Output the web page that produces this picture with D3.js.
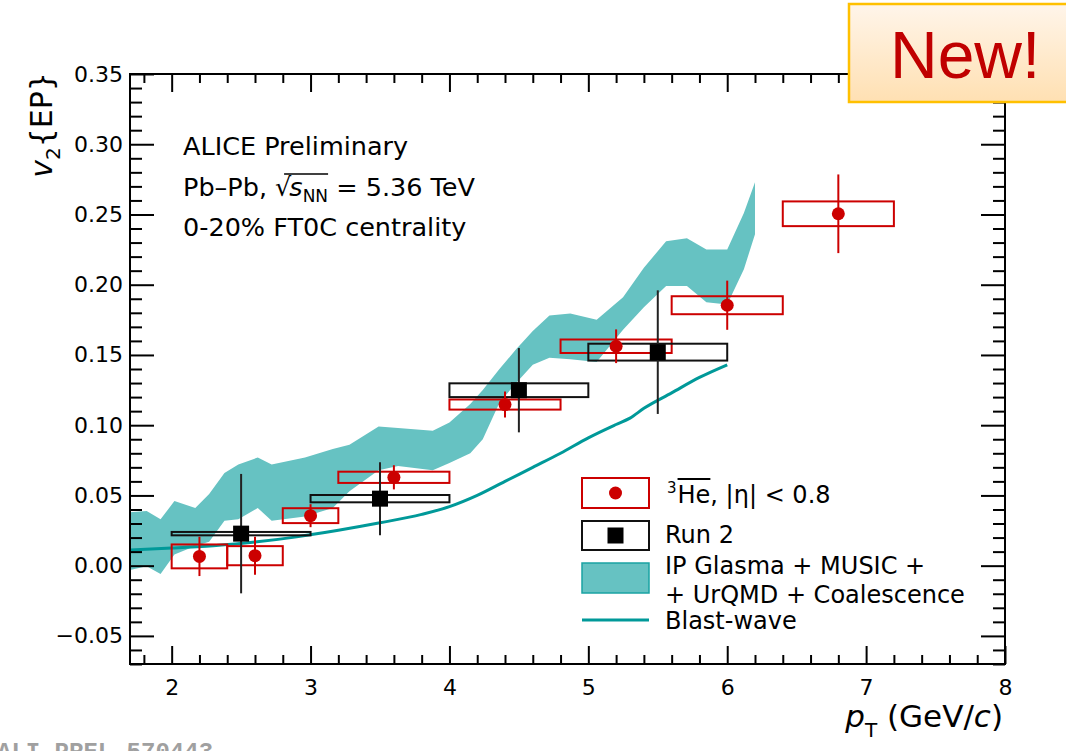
<!DOCTYPE html>
<html><head><meta charset="utf-8">
<script src="https://cdn.jsdelivr.net/npm/d3@7"></script>
<style>
body{margin:0;background:#fff}
svg{display:block}
text{white-space:pre}
</style>
</head><body>
<svg id="c" width="1066" height="751"></svg>
<script>
// ---------------- data ----------------
const xTicks = [2,3,4,5,6,7,8];
const yTicks = [-0.05,0,0.05,0.10,0.15,0.20,0.25,0.30,0.35];
const xDomain = [1.7, 8];
const yDomain = [-0.07, 0.35];

// anti-3He (red)
const he3X     = [2.2, 2.6, 3.0, 3.6, 4.4, 5.2, 6.0, 6.8];
const he3Y     = [0.0066, 0.0071, 0.0356, 0.0629, 0.1147, 0.1562, 0.1854, 0.2505];
const he3Stat  = [0.014, 0.0135, 0.0082, 0.0086, 0.0093, 0.012, 0.0175, 0.028];
const he3Sys   = [0.0085, 0.0068, 0.0053, 0.0040, 0.0036, 0.0048, 0.0064, 0.0088];
const he3BinLo = [2.0, 2.4, 2.8, 3.2, 4.0, 4.8, 5.6, 6.4];
const he3BinHi = [2.4, 2.8, 3.2, 4.0, 4.8, 5.6, 6.4, 7.2];

// Run 2 (black)
const run2X     = [2.5, 3.5, 4.5, 5.5];
const run2Y     = [0.0228, 0.0477, 0.1249, 0.1520];
const run2Stat  = [0.0425, 0.026, 0.030, 0.044];
const run2Sys   = [0.0012, 0.0026, 0.0049, 0.0060];
const run2BinLo = [2.0, 3.0, 4.0, 5.0];
const run2BinHi = [3.0, 4.0, 5.0, 6.0];

// IP Glasma + MUSIC + UrQMD + Coalescence band
const bandX    = [1.70, 1.82, 1.92, 2.02, 2.17, 2.27, 2.38, 2.48, 2.62, 2.72, 2.96, 3.16, 3.28, 3.49, 3.63, 3.88, 4.00, 4.15, 4.24, 4.36, 4.48, 4.60, 4.72, 4.87, 5.06, 5.25, 5.40, 5.56, 5.71, 5.85, 6.00, 6.12, 6.20];
const bandHigh = [0.038, 0.039, 0.033, 0.046, 0.041, 0.051, 0.066, 0.072, 0.077, 0.072, 0.077, 0.083, 0.086, 0.099, 0.098, 0.096, 0.102, 0.115, 0.125, 0.140, 0.154, 0.167, 0.178, 0.1795, 0.175, 0.191, 0.212, 0.231, 0.233, 0.225, 0.225, 0.251, 0.273];
const bandLow  = [-0.003, -0.0005, -0.006, 0.008, 0.014, 0.017, 0.032, 0.033, 0.041, 0.032, 0.035, 0.041, 0.053, 0.068, 0.071, 0.068, 0.073, 0.080, 0.090, 0.116, 0.130, 0.143, 0.148, 0.147, 0.145, 0.168, 0.184, 0.199, 0.199, 0.1875, 0.186, 0.211, 0.236];

// Blast-wave
const blastX = [1.7, 2.0, 2.3, 2.6, 2.9, 3.2, 3.5, 3.8, 4.0, 4.2, 4.4, 4.6, 4.8, 5.0, 5.2, 5.3, 5.4, 5.6, 5.8, 6.0];
const blastY = [0.0112, 0.0125, 0.0142, 0.0168, 0.0205, 0.0252, 0.0305, 0.0365, 0.042, 0.050, 0.060, 0.070, 0.080, 0.091, 0.1005, 0.105, 0.112, 0.123, 0.134, 0.143];

const legendLabels = ["Run 2", "IP Glasma + MUSIC +", "+ UrQMD + Coalescence", "Blast-wave"];
const infoLines = ["ALICE Preliminary", "0-20% FT0C centrality"];

// ---------------- drawing ----------------
const FONT = "'DejaVu Sans', sans-serif";
const RED = "#cc0000", TEAL = "#66c2c2", TEAL_LINE = "#009999";
const svg = d3.select("#c");
const L = 130, R = 1005, T = 74, B = 664;
const x = d3.scaleLinear().domain(xDomain).range([L, R]);
const y = d3.scaleLinear().domain(yDomain).range([B, T]);

// band
const band = bandX.map((v,i)=>({x:v, lo:bandLow[i], hi:bandHigh[i]}));
svg.append("path").datum(band)
  .attr("d", d3.area().x(d=>x(d.x)).y0(d=>y(d.lo)).y1(d=>y(d.hi)))
  .attr("fill", TEAL);

// blast wave
svg.append("path").datum(blastX.map((v,i)=>[v, blastY[i]]))
  .attr("d", d3.line().x(d=>x(d[0])).y(d=>y(d[1])).curve(d3.curveMonotoneX))
  .attr("fill","none").attr("stroke",TEAL_LINE).attr("stroke-width",3);

// systematic boxes
const he3 = he3X.map((v,i)=>({x:v,y:he3Y[i],s:he3Stat[i],sy:he3Sys[i],lo:he3BinLo[i],hi:he3BinHi[i]}));
const run2 = run2X.map((v,i)=>({x:v,y:run2Y[i],s:run2Stat[i],sy:run2Sys[i],lo:run2BinLo[i],hi:run2BinHi[i]}));

svg.append("g").selectAll("rect").data(he3).join("rect")
  .attr("x", d=>x(d.lo)).attr("width", d=>x(d.hi)-x(d.lo))
  .attr("y", d=>y(d.y+d.sy)).attr("height", d=>y(d.y-d.sy)-y(d.y+d.sy))
  .attr("fill","none").attr("stroke",RED).attr("stroke-width",2);
svg.append("g").selectAll("rect").data(run2).join("rect")
  .attr("x", d=>x(d.lo)).attr("width", d=>x(d.hi)-x(d.lo))
  .attr("y", d=>y(d.y+d.sy)).attr("height", d=>y(d.y-d.sy)-y(d.y+d.sy))
  .attr("fill","none").attr("stroke","#111").attr("stroke-width",2);

// stat errors
svg.append("g").selectAll("line").data(run2).join("line")
  .attr("x1", d=>x(d.x)).attr("x2", d=>x(d.x))
  .attr("y1", d=>y(d.y+d.s)).attr("y2", d=>y(d.y-d.s))
  .attr("stroke","#222").attr("stroke-width",2);
svg.append("g").selectAll("line").data(he3).join("line")
  .attr("x1", d=>x(d.x)).attr("x2", d=>x(d.x))
  .attr("y1", d=>y(d.y+d.s)).attr("y2", d=>y(d.y-d.s))
  .attr("stroke",RED).attr("stroke-width",2);

// markers
const SQ = 16;
svg.append("g").selectAll("rect").data(run2).join("rect")
  .attr("x", d=>x(d.x)-SQ/2).attr("y", d=>y(d.y)-SQ/2)
  .attr("width",SQ).attr("height",SQ).attr("fill","#000");
svg.append("g").selectAll("circle").data(he3).join("circle")
  .attr("cx", d=>x(d.x)).attr("cy", d=>y(d.y)).attr("r",6.5).attr("fill",RED);

// axes (ROOT style, ticks inside on all sides)
const fmt = d3.format(".2f");
const round = v => Math.round(v*1000)/1000;
const xMinor = d3.range(18, 81, 2).map(v=>v/10).filter(v=>!xTicks.includes(v));
const yMinor = d3.range(-7, 36, 1).map(v=>round(v/100)).filter(v=>Math.abs(Math.round(v*20)-v*20)>1e-6);

function style(g){ g.select(".domain").remove(); g.selectAll("line").attr("stroke","#000").attr("stroke-width",2); }
function labels(g){ g.selectAll("text").attr("font-size",22).style("font-family",FONT).attr("fill","#000"); }

svg.append("g").attr("transform",`translate(${L},0)`)
  .call(d3.axisLeft(y).tickValues(yTicks).tickFormat(fmt).tickSizeInner(-24).tickSizeOuter(0).tickPadding(7))
  .call(style).call(labels);
svg.append("g").attr("transform",`translate(${L},0)`)
  .call(d3.axisLeft(y).tickValues(yMinor).tickFormat("").tickSizeInner(-12).tickSizeOuter(0)).call(style);
svg.append("g").attr("transform",`translate(${R},0)`)
  .call(d3.axisRight(y).tickValues(yTicks).tickFormat("").tickSizeInner(-24).tickSizeOuter(0)).call(style);
svg.append("g").attr("transform",`translate(${R},0)`)
  .call(d3.axisRight(y).tickValues(yMinor).tickFormat("").tickSizeInner(-12).tickSizeOuter(0)).call(style);

svg.append("g").attr("transform",`translate(0,${B})`)
  .call(d3.axisBottom(x).tickValues(xTicks).tickFormat(d3.format("d")).tickSizeInner(-18).tickSizeOuter(0).tickPadding(15))
  .call(style).call(labels);
svg.append("g").attr("transform",`translate(0,${B})`)
  .call(d3.axisBottom(x).tickValues(xMinor).tickFormat("").tickSizeInner(-9).tickSizeOuter(0)).call(style);
svg.append("g").attr("transform",`translate(0,${T})`)
  .call(d3.axisTop(x).tickValues(xTicks).tickFormat("").tickSizeInner(-18).tickSizeOuter(0)).call(style);
svg.append("g").attr("transform",`translate(0,${T})`)
  .call(d3.axisTop(x).tickValues(xMinor).tickFormat("").tickSizeInner(-9).tickSizeOuter(0)).call(style);

svg.append("rect").attr("x",L).attr("y",T).attr("width",R-L).attr("height",B-T)
  .attr("fill","none").attr("stroke","#000").attr("stroke-width",2);

// rich text helper
function txt(g){ return g.append("text").style("font-family",FONT).attr("fill","#000"); }
function rich(g, x0, y0, parts, base){
  let cx = x0; const spans = [];
  parts.forEach(p=>{
    const t = txt(g).attr("x",cx).attr("y",y0+(p.dy||0))
      .attr("font-size",p.size||base).text(p.t);
    if(p.italic) t.attr("font-style","italic");
    const w = t.node().getComputedTextLength();
    spans.push([cx, cx+w]);
    cx += w + (p.gap||0);
  });
  return {end:cx, spans};
}

// axis titles
{
  const g = svg.append("g");
  const r = rich(g, 0, 0, [
    {t:"v", italic:true},
    {t:"2", size:20, dy:8},
    {t:"{EP}"}], 30);
  g.attr("transform",`translate(52,125) rotate(-90) translate(${-r.end/2},0)`);
}
{
  const g = svg.append("g");
  const r = rich(g, 0, 0, [
    {t:"p", italic:true},
    {t:"T", size:20, dy:10},
    {t:" (GeV/"},
    {t:"c", italic:true},
    {t:")"}], 31);
  g.attr("transform",`translate(${1003-r.end},727)`);
}

// info text
const info = svg.append("g");
txt(info).attr("x",183).attr("y",155).attr("font-size",25.5).text(infoLines[0]);
{
  const r = rich(info, 183, 196, [
    {t:"Pb\u2013Pb, "},
    {t:"\u221A", gap:-2},
    {t:"s", italic:true},
    {t:"NN", size:17, dy:6},
    {t:" = 5.36 TeV"}], 25.5);
  const s0 = r.spans[1][0] + 9, s1 = r.spans[3][1];
  info.append("line").attr("x1",s0).attr("x2",s1).attr("y1",174).attr("y2",174)
    .attr("stroke","#000").attr("stroke-width",1.6);
}
txt(info).attr("x",183).attr("y",236).attr("font-size",25.5).text(infoLines[1]);

// legend
const lg = svg.append("g");
const bx = 582, bw = 67;
lg.append("rect").attr("x",bx).attr("y",478).attr("width",bw).attr("height",30)
  .attr("fill","none").attr("stroke",RED).attr("stroke-width",2);
lg.append("circle").attr("cx",bx+bw/2).attr("cy",493).attr("r",6.5).attr("fill",RED);
lg.append("rect").attr("x",bx).attr("y",521).attr("width",bw).attr("height",29)
  .attr("fill","none").attr("stroke","#111").attr("stroke-width",2);
lg.append("rect").attr("x",bx+bw/2-8).attr("y",535.5-8).attr("width",16).attr("height",16).attr("fill","#000");
lg.append("rect").attr("x",bx).attr("y",563).attr("width",bw).attr("height",30)
  .attr("fill",TEAL).attr("stroke","#1aa3a3").attr("stroke-width",1.5);
lg.append("line").attr("x1",bx).attr("x2",bx+bw).attr("y1",620).attr("y2",620)
  .attr("stroke",TEAL_LINE).attr("stroke-width",3);
{
  const r = rich(lg, 667, 503, [
    {t:"3", size:15, dy:-10, gap:1},
    {t:"He"},
    {t:", |\u03B7| < 0.8"}], 24);
  lg.append("line").attr("x1",r.spans[1][0]).attr("x2",r.spans[1][1]).attr("y1",479).attr("y2",479)
    .attr("stroke","#000").attr("stroke-width",2);
}
txt(lg).attr("x",665).attr("y",543).attr("font-size",24).text(legendLabels[0]);
txt(lg).attr("x",665).attr("y",574).attr("font-size",24).text(legendLabels[1]);
txt(lg).attr("x",665).attr("y",603).attr("font-size",24).text(legendLabels[2]);
txt(lg).attr("x",665).attr("y",629).attr("font-size",24).text(legendLabels[3]);

// New! badge
const defs = svg.append("defs");
const gr = defs.append("linearGradient").attr("id","newg").attr("x1",0).attr("y1",0).attr("x2",0).attr("y2",1);
gr.append("stop").attr("offset","0%").attr("stop-color","#fff5ea");
gr.append("stop").attr("offset","100%").attr("stop-color","#ffe0b2");
svg.append("rect").attr("x",849).attr("y",4).attr("width",240).attr("height",98)
  .attr("fill","url(#newg)").attr("stroke","#ffc000").attr("stroke-width",2.5);
svg.append("text").attr("x",890).attr("y",78).attr("font-size",66)
  .style("font-family","'Liberation Sans', Arial, sans-serif").attr("fill","#c00000").text("New!");

// watermark
svg.append("text").attr("x",-3).attr("y",759).attr("font-size",24)
  .style("font-family","'Liberation Mono', monospace").attr("font-weight","bold")
  .attr("fill","#a0a0a0").text("ALI-PREL-570443");
</script>
</body></html>
